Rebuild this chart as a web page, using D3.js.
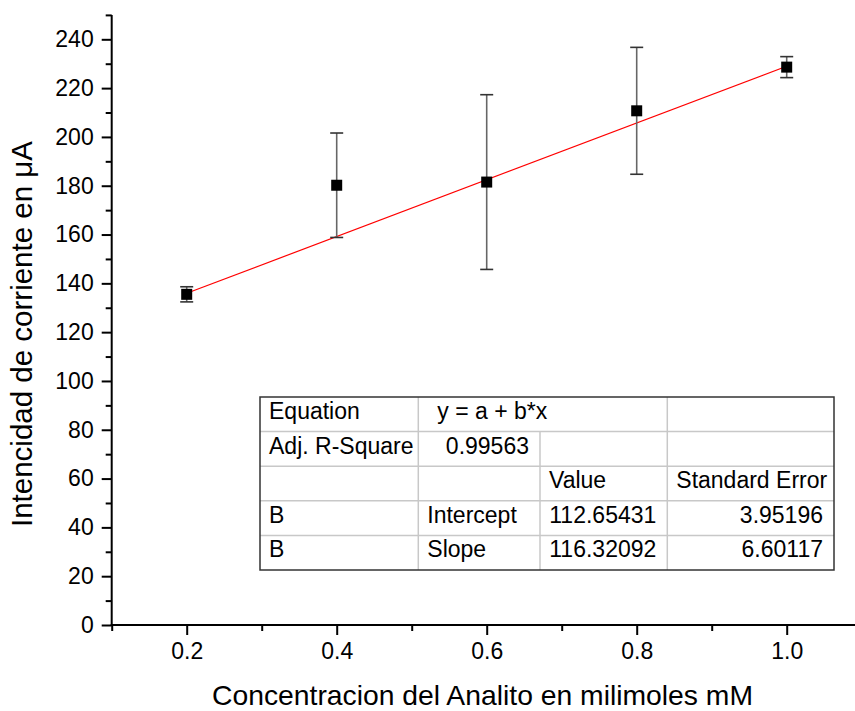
<!DOCTYPE html>
<html><head><meta charset="utf-8">
<script src="https://cdn.jsdelivr.net/npm/d3@7/dist/d3.min.js"></script>
<style>html,body{margin:0;padding:0;background:#fff;overflow:hidden}svg{display:block}</style>
</head><body>
<script>
// Data
const xValues = [0.2, 0.4, 0.6, 0.8, 1.0];
const yValues = [135.5, 180.2, 181.5, 210.7, 228.6];
const yErrors = [3.1, 21.4, 35.8, 26.0, 4.3];
const fitIntercept = 112.65431;
const fitSlope = 116.32092;
const xMajorTicks = [0.2, 0.4, 0.6, 0.8, 1.0];
const xMinorTicks = [0.1, 0.3, 0.5, 0.7, 0.9];
const yMajorTicks = [0, 20, 40, 60, 80, 100, 120, 140, 160, 180, 200, 220, 240];
const yMinorTicks = [10, 30, 50, 70, 90, 110, 130, 150, 170, 190, 210, 230, 250];
const xTitle = "Concentracion del Analito en milimoles mM";
const yTitle = "Intencidad de corriente en \u03BCA";
const tableRows = [
  ["Equation", "y = a + b*x", null, ""],
  ["Adj. R-Square", "0.99563", "", ""],
  ["", "", "Value", "Standard Error"],
  ["B", "Intercept", "112.65431", "3.95196"],
  ["B", "Slope", "116.32092", "6.60117"]
];

const W = 855, H = 711;
const font = "Arial, 'Liberation Sans', sans-serif";
const svg = d3.select("body").append("svg").attr("width", W).attr("height", H)
  .style("font-family", font);

const x = d3.scaleLinear().domain([0.1, 1.1]).range([111.7, 861.7]);
const y = d3.scaleLinear().domain([0, 250]).range([625, 14.9]);

// Axes
const gx = svg.append("g").attr("transform", `translate(0,${y(0)})`);
gx.call(d3.axisBottom(x).tickValues(xMajorTicks).tickFormat(d3.format(".1f")).tickSize(10).tickPadding(8));
gx.append("g").call(d3.axisBottom(x).tickValues(xMinorTicks).tickFormat("").tickSize(6))
  .select(".domain").remove();
const gy = svg.append("g").attr("transform", `translate(${x(0.1)},0)`);
gy.call(d3.axisLeft(y).tickValues(yMajorTicks).tickFormat(d3.format("d")).tickSize(10).tickPadding(8));
gy.append("g").call(d3.axisLeft(y).tickValues(yMinorTicks).tickFormat("").tickSize(6))
  .select(".domain").remove();
[gx, gy].forEach(g => {
  g.selectAll("line").attr("stroke", "#000").attr("stroke-width", 2);
  g.selectAll("text").attr("font-size", 23).attr("font-family", font).attr("fill", "#000");
  g.selectAll("path.domain").remove();
});
svg.append("line").attr("x1", x(0.1) - 1).attr("x2", W).attr("y1", y(0)).attr("y2", y(0))
  .attr("stroke", "#000").attr("stroke-width", 2);
svg.append("line").attr("x1", x(0.1)).attr("x2", x(0.1)).attr("y1", y(0) + 1).attr("y2", y(250))
  .attr("stroke", "#000").attr("stroke-width", 2);

// Titles
svg.append("text").attr("x", 482.5).attr("y", 705)
  .attr("text-anchor", "middle").attr("font-size", 28.3).text(xTitle);
svg.append("text").attr("transform", `translate(32,334) rotate(-90)`)
  .attr("text-anchor", "middle").attr("font-size", 29.5).text(yTitle);

// Fit line
svg.append("line")
  .attr("x1", x(xValues[0])).attr("y1", y(fitIntercept + fitSlope * xValues[0]))
  .attr("x2", x(xValues[xValues.length - 1])).attr("y2", y(fitIntercept + fitSlope * xValues[xValues.length - 1]))
  .attr("stroke", "#ff0000").attr("stroke-width", 1.2);

// Error bars
const pts = xValues.map((v, i) => ({x: v, y: yValues[i], e: yErrors[i]}));
const eb = svg.append("g");
pts.forEach(d => {
  eb.append("line").attr("x1", x(d.x)).attr("x2", x(d.x)).attr("y1", y(d.y - d.e)).attr("y2", y(d.y + d.e))
    .attr("stroke", "#666").attr("stroke-width", 1.6);
  [d.y - d.e, d.y + d.e].forEach(v => {
    eb.append("line").attr("x1", x(d.x) - 6.5).attr("x2", x(d.x) + 6.5).attr("y1", y(v)).attr("y2", y(v))
      .attr("stroke", "#333").attr("stroke-width", 1.6);
  });
});
// Markers
svg.append("g").selectAll("rect").data(pts).join("rect")
  .attr("x", d => x(d.x) - 5.5).attr("y", d => y(d.y) - 5.5)
  .attr("width", 11).attr("height", 11).attr("fill", "#000");

// Table
const colX = [260, 418.3, 540, 667.3, 834];
const rowY = [397, 431.6, 466.2, 500.8, 535.4, 570];
const tg = svg.append("g");
tg.append("rect").attr("x", colX[0]).attr("y", rowY[0]).attr("width", colX[4] - colX[0]).attr("height", rowY[5] - rowY[0])
  .attr("fill", "#fff");
for (let r = 1; r < 5; r++) {
  tg.append("line").attr("x1", colX[0]).attr("x2", colX[4]).attr("y1", rowY[r]).attr("y2", rowY[r])
    .attr("stroke", "#c8c8c8").attr("stroke-width", 1.5);
}
tableRows.forEach((row, r) => {
  for (let c = 1; c < 4; c++) {
    if (row[c] === null) continue;
    tg.append("line").attr("x1", colX[c]).attr("x2", colX[c]).attr("y1", rowY[r]).attr("y2", rowY[r + 1])
      .attr("stroke", "#c8c8c8").attr("stroke-width", 1.5);
  }
});
tg.append("rect").attr("x", colX[0]).attr("y", rowY[0]).attr("width", colX[4] - colX[0]).attr("height", rowY[5] - rowY[0])
  .attr("fill", "none").attr("stroke", "#333").attr("stroke-width", 1.5);
const isNum = s => /^[0-9.]+$/.test(s);
tableRows.forEach((row, r) => {
  row.forEach((cell, c) => {
    if (!cell) return;
    const right = isNum(cell);
    const merged = row[c + 1] === null;
    tg.append("text")
      .attr("x", right ? colX[c + 1] - 11 : colX[c] + (merged ? 19 : 9))
      .attr("y", rowY[r] + 22)
      .attr("text-anchor", right ? "end" : "start")
      .attr("font-size", 23).attr("fill", "#000").text(cell);
  });
});
</script>
</body></html>
